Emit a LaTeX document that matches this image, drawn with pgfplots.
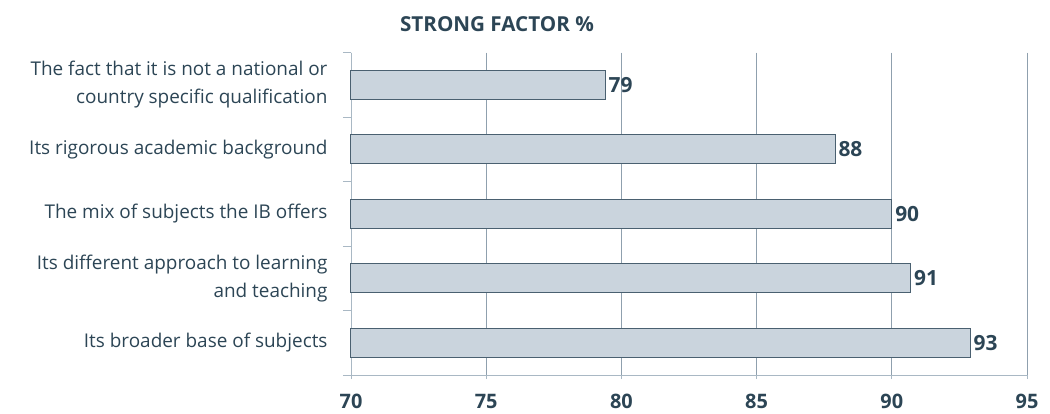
\documentclass[border=0pt]{standalone}
\usepackage{pgfplots}
\pgfplotsset{compat=1.18}
\usepackage{fontspec}
\setmainfont{Open Sans}

\definecolor{txt}{HTML}{2C4555}
\definecolor{barfill}{HTML}{CAD4DD}
\definecolor{barline}{HTML}{4A6070}
\definecolor{gridc}{HTML}{8FA0AE}
\definecolor{axisc}{HTML}{A9B8C4}

\begin{document}
\begin{tikzpicture}
\begin{axis}[
  scale only axis,
  width=676bp, height=322.3bp,
  xbar, bar width=29bp,
  xmin=70, xmax=95,
  ymin=-0.5, ymax=4.5,
  y dir=reverse,
  xtick={70,75,...,95},
  ytick={0,1,2,3,4},
  yticklabels={{The fact that it is not a national or\\country specific qualification},
               {Its rigorous academic background},
               {The mix of subjects the IB offers},
               {Its different approach to learning\\and teaching},
               {Its broader base of subjects}},
  minor ytick={-0.5,0.5,...,4.5},
  every major y tick/.style={draw=none},
  every minor y tick/.style={draw=axisc, line width=0.8bp},
  every major x tick/.style={draw=axisc, line width=0.8bp},
  major tick length=4bp,
  minor tick length=8bp,
  tick align=outside,
  axis lines*=left,
  axis line style={draw=axisc, line width=0.8bp},
  xmajorgrids,
  major grid style={draw=gridc, line width=0.8bp},
  yticklabel style={font=\fontsize{19}{28}\selectfont, text=txt, align=right, xshift=-16bp},
  xticklabel style={font=\fontsize{20}{24}\selectfont\bfseries, text=txt, yshift=-12bp},
  /pgf/number format/assume math mode=true,
  nodes near coords={\pgfmathprintnumber[fixed,precision=0]{\pgfplotspointmeta}},
  nodes near coords style={font=\fontsize{21}{25}\selectfont\bfseries, text=txt, anchor=west, inner sep=3bp},
  clip=false,
]
\addplot[fill=barfill, draw=barline, line width=1bp] coordinates {
  (79.4,0) (87.9,1) (90.0,2) (90.7,3) (92.9,4)
};
\end{axis}
\node[anchor=base, text=txt, font=\fontsize{20.7}{25}\selectfont\bfseries] at (146bp,343bp) {STRONG FACTOR \%};
\pgfresetboundingbox
\path (-351bp,-39bp) rectangle (699bp,375bp);
\end{tikzpicture}
\end{document}
